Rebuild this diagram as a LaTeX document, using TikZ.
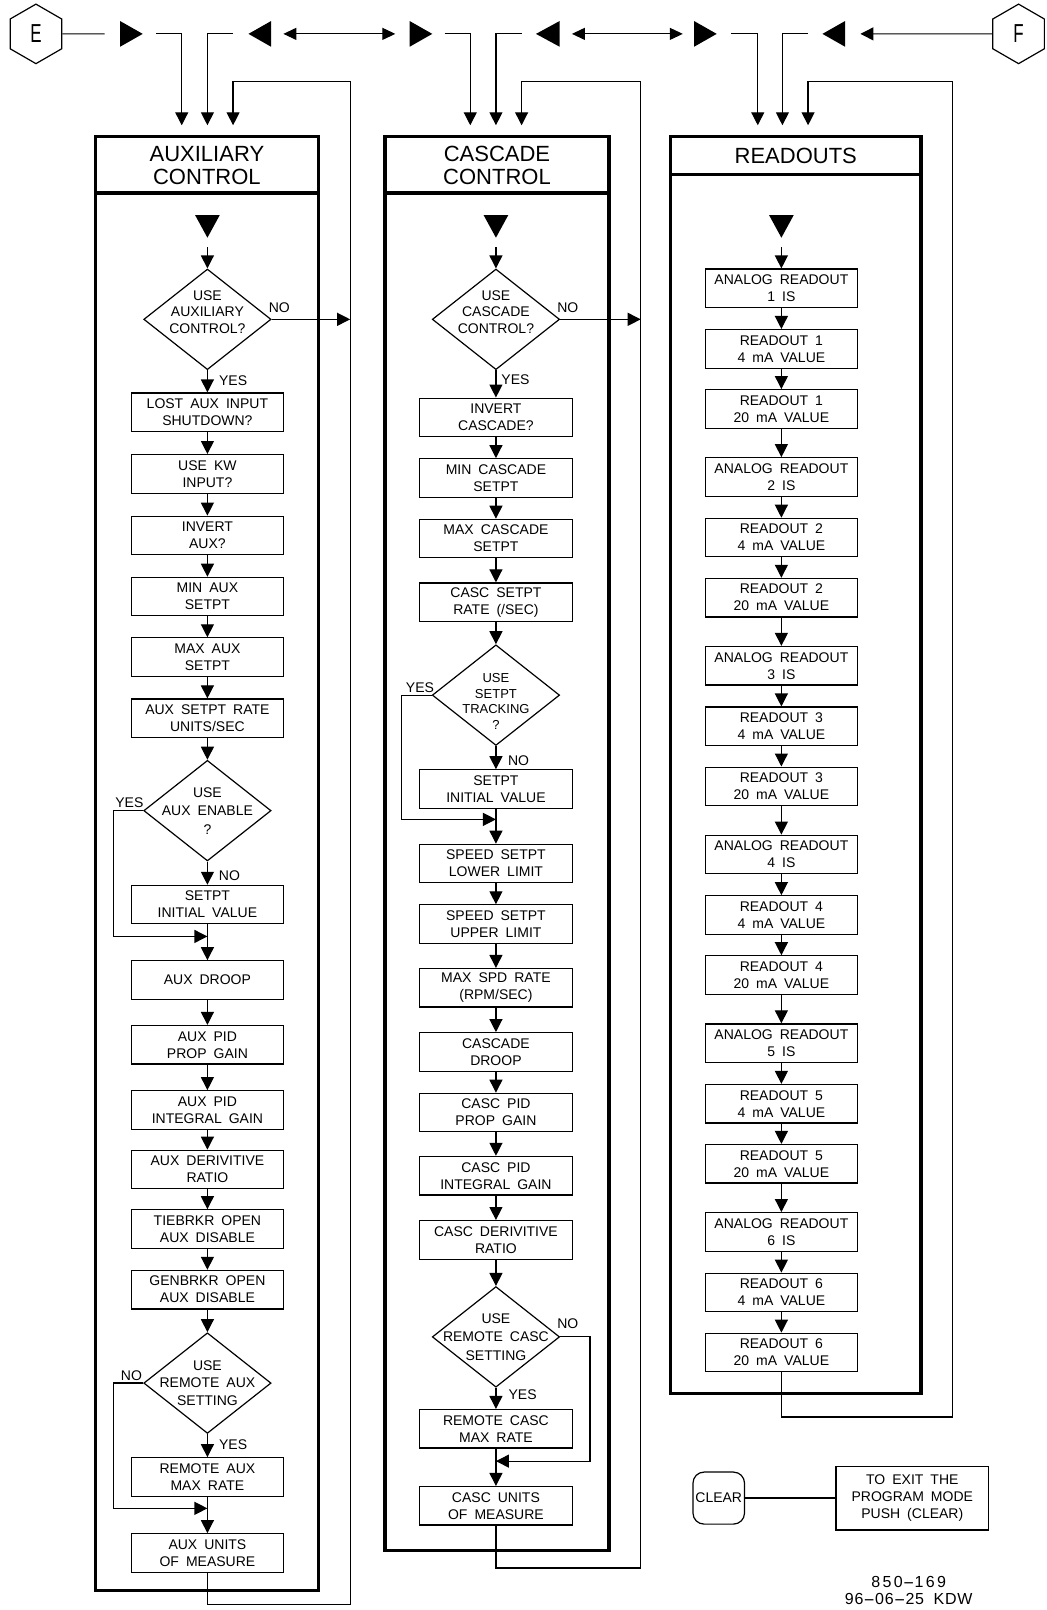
\documentclass[tikz,border=0pt]{standalone}
\usepackage{graphicx}
\usepackage{fontspec}
\setmainfont{Liberation Sans}[WordSpace=1.8]
\usetikzlibrary{arrows.meta,shapes.geometric}
\newcommand\ldash{\scalebox{2.2}[1]{-}}
\begin{document}
\begin{tikzpicture}[x=1.0265pt,y=-1.0265pt,line width=1.2pt,
  box/.style={draw,line width=1.2pt,minimum width=152.5pt,minimum height=38.5pt,inner sep=0pt,align=center,font=\fontsize{14}{17}\selectfont},
  dia/.style={draw,diamond,line width=1.2pt,minimum width=127.3pt,minimum height=100.6pt,inner sep=0pt},
  dtext/.style={align=center,inner sep=0pt,font=\fontsize{14}{16.5}\selectfont},
  dtextm/.style={align=center,inner sep=0pt,font=\fontsize{14}{17.5}\selectfont},
  dtextw/.style={align=center,inner sep=0pt,font=\fontsize{14}{18.5}\selectfont},
  dtexts/.style={align=center,inner sep=0pt,font=\fontsize{13}{15.5}\selectfont},
  lbl/.style={inner sep=0pt,font=\fontsize{14}{16}\selectfont},
  arr/.style={-{Triangle[length=13pt,width=13pt]}},
  darr/.style={{Triangle[length=13pt,width=12pt]}-{Triangle[length=13pt,width=12pt]}},
  frame/.style={line width=3.4pt},
  ttl/.style={align=center,inner sep=0pt,font=\fontsize{22}{23}\selectfont},
  hexa/.style={draw,regular polygon,regular polygon sides=6,shape border rotate=30,minimum size=59.5pt,inner sep=0pt,font=\fontsize{26}{26}\selectfont},
]
\useasboundingbox (0,0) rectangle (1019,1568);

% ---------------- top row ----------------
\node[hexa] (E) at (35,33) {\scalebox{0.65}[1]{E}};
\node[hexa] (F) at (992,33) {\scalebox{0.65}[1]{F}};
\coordinate (e1) at (102,33);
\draw (E.east) -- (e1);
\fill (117,20.5) -- (139,33) -- (117,45.5) -- cycle;
\coordinate (a1s) at (152,33); \coordinate (a1) at (177,122);
\draw[arr] (a1s) -| (a1);
\coordinate (a2s) at (227,33); \coordinate (a2) at (202,122);
\draw[arr] (a2s) -| (a2);
\fill (264,20.5) -- (242,33) -- (264,45.5) -- cycle;
\coordinate (dl1) at (276,33); \coordinate (dr1) at (385,33);
\draw[darr] (dl1) -- (dr1);
\fill (399,20.5) -- (421,33) -- (399,45.5) -- cycle;
\coordinate (b1s) at (433,33); \coordinate (b1) at (458,122);
\draw[arr] (b1s) -| (b1);
\coordinate (b2s) at (508,33); \coordinate (b2) at (483,122);
\draw[arr] (b2s) -| (b2);
\fill (545,20.5) -- (522,33) -- (545,45.5) -- cycle;
\coordinate (dl2) at (557,33); \coordinate (dr2) at (665,33);
\draw[darr] (dl2) -- (dr2);
\fill (676,20.5) -- (698,33) -- (676,45.5) -- cycle;
\coordinate (c1s) at (712,33); \coordinate (c1) at (738,122);
\draw[arr] (c1s) -| (c1);
\coordinate (c2s) at (787,33); \coordinate (c2) at (762,122);
\draw[arr] (c2s) -| (c2);
\fill (823,20.5) -- (801,33) -- (823,45.5) -- cycle;
\coordinate (fEnd) at (838,33);
\draw[arr] (F.west) -- (fEnd);

% ---------------- frames ----------------
\draw[frame] (93,133) rectangle (310,1549);
\draw[frame] (93,188) -- (310,188);
\node[ttl] (tA) at (201.5,161.5) {AUXILIARY\\CONTROL};
\draw[frame] (375,133) rectangle (593,1510);
\draw[frame] (375,188) -- (593,188);
\node[ttl] (tC) at (484,161.5) {CASCADE\\CONTROL};
\draw[frame] (653,133) rectangle (897,1357);
\draw[frame] (653,170) -- (897,170);
\node[ttl] (tR) at (775,151.5) {READOUTS};

% ---------------- auxiliary column ----------------
\fill (190,209.5) -- (214,209.5) -- (202,231.5) -- cycle;
\coordinate (sA) at (202,241);
\node[dia,label={[dtext,yshift=7.5pt]center:{USE\\AUXILIARY\\CONTROL?}}] (dA1) at (202,311) {};
\node[box] (lost) at (202,401.5) {LOST AUX INPUT\\SHUTDOWN?};
\node[box] (kw) at (202,461.5) {USE KW\\INPUT?};
\node[box] (invA) at (202,521.5) {INVERT\\AUX?};
\node[box] (minA) at (202,581) {MIN AUX\\SETPT};
\node[box] (maxA) at (202,640) {MAX AUX\\SETPT};
\node[box] (rateA) at (202,699.5) {AUX SETPT RATE\\UNITS/SEC};
\node[dia,label={[dtextw]center:{USE\\AUX ENABLE\\?}}] (dA2) at (202,789.5) {};
\node[box] (setA) at (202,881) {SETPT\\INITIAL VALUE};
\node[box] (droopA) at (202,954.5) {AUX DROOP};
\node[box] (propA) at (202,1017.5) {AUX PID\\PROP GAIN};
\node[box] (intA) at (202,1081) {AUX PID\\INTEGRAL GAIN};
\node[box] (derA) at (202,1139) {AUX DERIVITIVE\\RATIO};
\node[box] (tieA) at (202,1197) {TIEBRKR OPEN\\AUX DISABLE};
\node[box] (genA) at (202,1256) {GENBRKR OPEN\\AUX DISABLE};
\node[dia,label={[dtextm]center:{USE\\REMOTE AUX\\SETTING}}] (dA3) at (202,1347) {};
\node[box] (remA) at (202,1438.5) {REMOTE AUX\\MAX RATE};
\node[box] (unitA) at (202,1512.5) {AUX UNITS\\OF MEASURE};

\draw[arr] (sA) -- (dA1.north);
\foreach \a/\b in {dA1/lost,lost/kw,kw/invA,invA/minA,minA/maxA,maxA/rateA,rateA/dA2,dA2/setA,setA/droopA,droopA/propA,propA/intA,intA/derA,derA/tieA,tieA/genA,genA/dA3,dA3/remA,remA/unitA}
  \draw[arr] (\a.south) -- (\b.north);

\node[lbl] (noA1) at (272,300) {NO};
\node[lbl] (yesA1) at (227,371) {YES};
\node[lbl] (yesA2) at (126,782) {YES};
\node[lbl] (noA2) at (223.5,853) {NO};
\node[lbl] (noA3) at (128,1339.5) {NO};
\node[lbl] (yesA3) at (227,1406.5) {YES};

\coordinate (mA) at (202,912);
\draw[arr] (dA2.west) -- ++(-29,0) |- (mA);
\coordinate (mA3) at (202,1469);
\draw[arr] (dA3.west) -- ++(-29,0) |- (mA3);
\coordinate (xA) at (341,311);
\draw[arr] (dA1.east) -- (xA);
\coordinate (inA3) at (227,122);
\draw[arr] (unitA.south) |- (341,1563) |- (227,79) -- (inA3);

% ---------------- cascade column ----------------
\fill (471,209.5) -- (495,209.5) -- (483,231.5) -- cycle;
\coordinate (sC) at (483,241);
\node[dia,label={[dtext,yshift=7.5pt]center:{USE\\CASCADE\\CONTROL?}}] (dC1) at (483,311) {};
\node[box] (invC) at (483,406.5) {INVERT\\CASCADE?};
\node[box] (minC) at (483,465.5) {MIN CASCADE\\SETPT};
\node[box] (maxC) at (483,524.5) {MAX CASCADE\\SETPT};
\node[box] (rateC) at (483,586.5) {CASC SETPT\\RATE (/SEC)};
\node[dia,label={[dtexts,yshift=-6.5pt]center:{USE\\SETPT\\TRACKING\\?}}] (dC2) at (483,677) {};
\node[box] (setC) at (483,768.5) {SETPT\\INITIAL VALUE};
\node[box] (lowC) at (483,841) {SPEED SETPT\\LOWER LIMIT};
\node[box] (upC) at (483,900) {SPEED SETPT\\UPPER LIMIT};
\node[box] (spdC) at (483,962) {MAX SPD RATE\\(RPM/SEC)};
\node[box] (droopC) at (483,1024.5) {CASCADE\\DROOP};
\node[box] (propC) at (483,1083.5) {CASC PID\\PROP GAIN};
\node[box] (intC) at (483,1145) {CASC PID\\INTEGRAL GAIN};
\node[box] (derC) at (483,1207.5) {CASC DERIVITIVE\\RATIO};
\node[dia,label={[dtextw]center:{USE\\REMOTE CASC\\SETTING}}] (dC3) at (483,1302) {};
\node[box] (remC) at (483,1391.5) {REMOTE CASC\\MAX RATE};
\node[box] (unitC) at (483,1466.5) {CASC UNITS\\OF MEASURE};

\draw[arr] (sC) -- (dC1.north);
\foreach \a/\b in {dC1/invC,invC/minC,minC/maxC,maxC/rateC,rateC/dC2,dC2/setC,setC/lowC,lowC/upC,upC/spdC,spdC/droopC,droopC/propC,propC/intC,intC/derC,derC/dC3,dC3/remC,remC/unitC}
  \draw[arr] (\a.south) -- (\b.north);

\node[lbl] (noC1) at (553,300) {NO};
\node[lbl] (yesC1) at (502,370) {YES};
\node[lbl] (yesC2) at (409,670) {YES};
\node[lbl] (noC2) at (505,740.5) {NO};
\node[lbl] (noC3) at (553,1289) {NO};
\node[lbl] (yesC3) at (509,1358.5) {YES};

\coordinate (mC) at (483,798);
\draw[arr] (dC2.west) -- ++(-29,0) |- (mC);
\coordinate (mC3) at (483,1423);
\draw[arr] (dC3.east) -- ++(29,0) |- (mC3);
\coordinate (xC) at (624,311);
\draw[arr] (dC1.east) -- (xC);
\coordinate (inC3) at (508,122);
\draw[arr] (unitC.south) |- (624,1527) |- (508,79) -- (inC3);

% ---------------- readouts column ----------------
\fill (749,209.5) -- (773,209.5) -- (761,231.5) -- cycle;
\coordinate (sR) at (761,241);
\foreach \n in {1,...,6}{
  \pgfmathsetmacro\t{262+183.8*(\n-1)}
  \node[box] (ra\n) at (761,\t+18.75) {ANALOG READOUT\\\n{} IS};
  \node[box] (rb\n) at (761,\t+77.75) {READOUT \n\\4 mA VALUE};
  \node[box] (rc\n) at (761,\t+136.25) {READOUT \n\\20 mA VALUE};
  \draw[arr] (ra\n.south) -- (rb\n.north);
  \draw[arr] (rb\n.south) -- (rc\n.north);
}
\foreach \n [evaluate=\n as \m using int(\n+1)] in {1,...,5}
  \draw[arr] (rc\n.south) -- (ra\m.north);
\draw[arr] (sR) -- (ra1.north);
\coordinate (inR3) at (787,122);
\draw[arr] (rc6.south) |- (928,1380) |- (787,79) -- (inR3);

% ---------------- clear note ----------------
\node[draw,rounded corners=11pt,minimum width=51.5pt,minimum height=52pt,inner sep=0pt,font=\fontsize{14}{17}\selectfont] (clr) at (700,1459) {CLEAR};
\node[box,minimum height=63.6pt] (exit) at (888.5,1459) {TO EXIT THE\\PROGRAM MODE\\PUSH (CLEAR)};
\draw (clr) -- (exit);

\node[align=center,inner sep=0pt,font={\fontsize{16}{16.5}\selectfont}] (rev) at (885,1549) {{\addfontfeatures{LetterSpace=15}850\ldash169}\\{\addfontfeatures{LetterSpace=5}96\ldash06\ldash25 KDW}};
\end{tikzpicture}
\end{document}
